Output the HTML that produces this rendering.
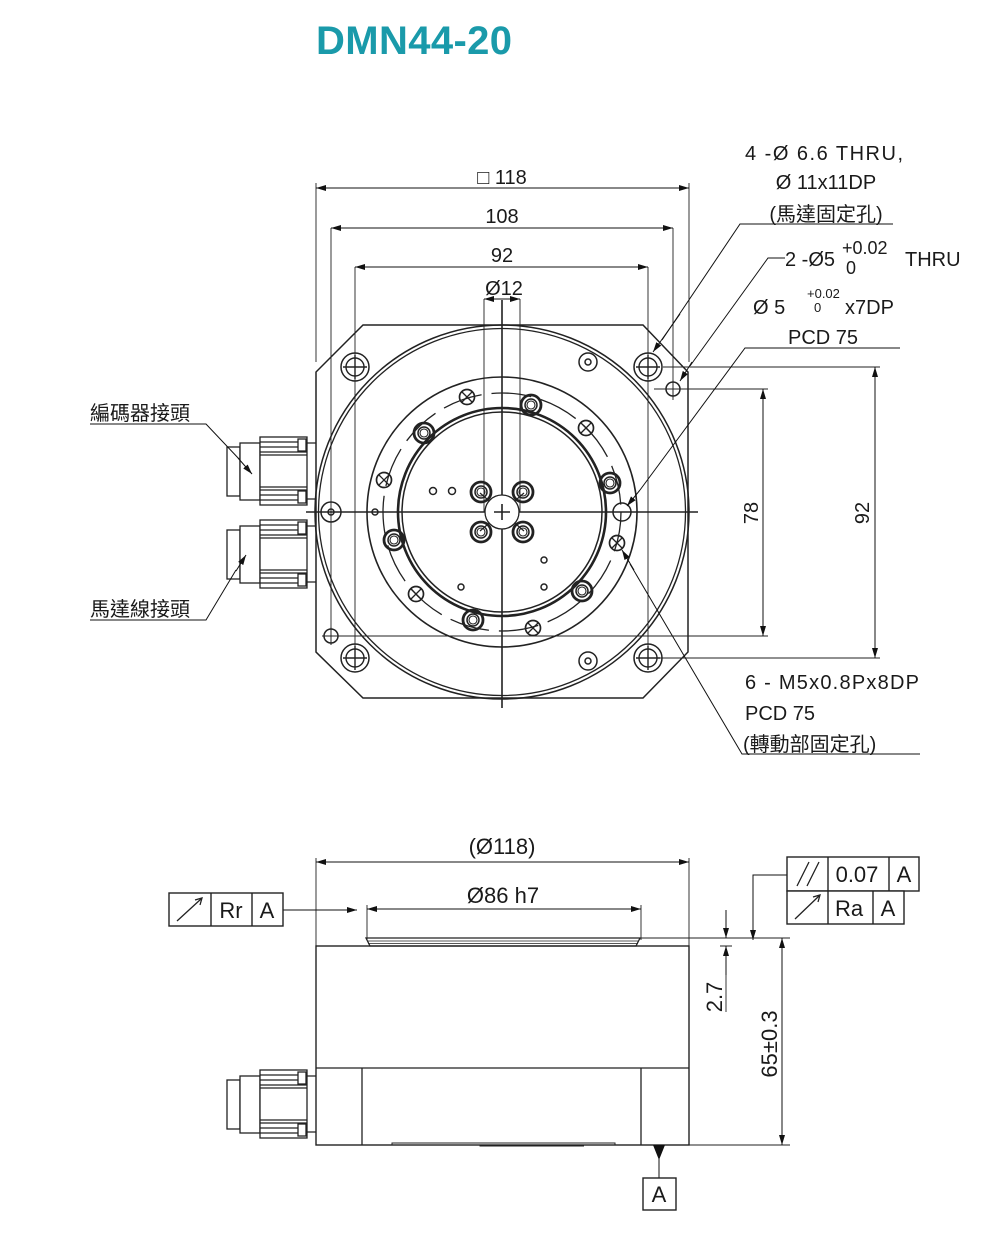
<!DOCTYPE html>
<html><head><meta charset="utf-8"><style>
html,body{margin:0;padding:0;background:#fff;width:998px;height:1255px;overflow:hidden}
svg{display:block}
text{font-family:"Liberation Sans","Noto Sans CJK TC",sans-serif;fill:#1a1a1a}
</style></head><body>
<svg width="998" height="1255" viewBox="0 0 998 1255" xmlns="http://www.w3.org/2000/svg">
<defs>
<marker id="a" viewBox="0 0 10 6" refX="10" refY="3" markerWidth="10" markerHeight="6" orient="auto-start-reverse" markerUnits="userSpaceOnUse"><path d="M0,0L10,3L0,6z" fill="#111"/></marker>
<g id="ch"><circle r="14" fill="none" stroke="#222" stroke-width="1.5"/><circle r="9" fill="none" stroke="#222" stroke-width="1.4"/><path d="M-12,0H12M0,-12V12" stroke="#222" stroke-width="1.4"/></g>
<g id="xh"><circle r="7.5" fill="none" stroke="#222" stroke-width="1.7"/><path d="M-5,-5L5,5M-5,5L5,-5" stroke="#222" stroke-width="1.3"/></g>
<g id="bh"><circle r="10" fill="none" stroke="#222" stroke-width="2.8"/><circle r="6" fill="none" stroke="#222" stroke-width="1.5"/><circle r="4" fill="none" stroke="#222" stroke-width="1.1"/></g>
<g id="con" fill="#fff" stroke="#222" stroke-width="1.3">
<rect x="227" y="10" width="13" height="49"/><rect x="240" y="6" width="20" height="57"/>
<rect x="260" y="0" width="47" height="68"/>
<path d="M260,5H307M260,10H307M260,15H307M260,18H307M260,50H307M260,53H307M260,58H307M260,63H307" fill="none"/>
<rect x="298" y="2" width="8" height="12"/><rect x="298" y="54" width="8" height="12"/>
<path d="M307,6H316M307,62H316" fill="none"/>
</g>
</defs>

<text x="316" y="54" font-size="40" font-weight="bold" style="fill:#1a9aaa" textLength="196">DMN44-20</text>

<g fill="none" stroke="#222" stroke-width="1.3">
<path d="M363,325H643L688,372V652L643,698H363L316,652V372Z" stroke-width="1.5"/>
<circle cx="502" cy="512" r="187" stroke-width="1.5"/>
<circle cx="502" cy="512" r="183.5"/>
<circle cx="502" cy="512" r="135" stroke-width="1.6"/>
<circle cx="502" cy="512" r="119" stroke-dasharray="40 10"/>
<circle cx="502" cy="512" r="104" stroke-width="2.6"/>
<circle cx="502" cy="512" r="100" stroke-width="1.5"/>
<path d="M502,300V708M306,512H698" stroke-width="1.6"/>
<path d="M484,299V512M520,299V512" stroke-width="0.9"/>
<path d="M331,228V645M673,228V400M355,267V662M648,267V662" stroke-width="0.9"/>
<path d="M316,183V362M689,183V362" stroke-width="0.9"/>
<path d="M322,636H768M654,389H768M663,367H880M656,658H880" stroke-width="0.9"/>
<path d="M480,493L502,512L524,493M480,531L502,512L524,531" stroke-width="1.2"/>
</g>
<use href="#bh" x="481" y="492"/><use href="#bh" x="523" y="492"/><use href="#bh" x="481" y="532"/><use href="#bh" x="523" y="532"/>
<circle cx="502" cy="512" r="17" fill="#fff" stroke="#222" stroke-width="1.3"/>
<path d="M494,512H510M502,504V520" stroke="#222" stroke-width="1.6"/>
<use href="#ch" x="355" y="367"/><use href="#ch" x="648" y="367"/><use href="#ch" x="355" y="658"/><use href="#ch" x="648" y="658"/>
<g fill="none" stroke="#222" stroke-width="1.5">
<circle cx="588" cy="362" r="9"/><circle cx="588" cy="362" r="3"/>
<circle cx="588" cy="661" r="9"/><circle cx="588" cy="661" r="3"/>
<circle cx="673" cy="389" r="7"/><path d="M664,389H682M673,380V398" stroke-width="1"/>
<circle cx="331" cy="636" r="7"/><path d="M322,636H340M331,627V645" stroke-width="1"/>
<circle cx="331" cy="512" r="10"/><circle cx="331" cy="512" r="3"/>
<circle cx="622" cy="512" r="9"/>
<circle cx="375" cy="512" r="3"/><circle cx="433" cy="491" r="3.5"/><circle cx="452" cy="491" r="3.5"/>
<circle cx="544" cy="560" r="3"/><circle cx="544" cy="587" r="3"/><circle cx="461" cy="587" r="3"/>
</g>
<use href="#bh" x="531" y="405"/><use href="#bh" x="424" y="433"/><use href="#bh" x="610" y="483"/><use href="#bh" x="394" y="540"/><use href="#bh" x="582" y="591"/><use href="#bh" x="473" y="620"/>
<use href="#xh" x="467" y="397"/><use href="#xh" x="586" y="428"/><use href="#xh" x="416" y="594"/><use href="#xh" x="533" y="628"/><use href="#xh" x="384" y="480"/><use href="#xh" x="617" y="543"/>

<use href="#con" x="0" y="437"/><use href="#con" x="0" y="520"/>

<g stroke="#111" stroke-width="1" fill="none">
<path d="M316,188H689" marker-start="url(#a)" marker-end="url(#a)"/>
<path d="M331,228H673" marker-start="url(#a)" marker-end="url(#a)"/>
<path d="M355,267H648" marker-start="url(#a)" marker-end="url(#a)"/>
<path d="M484,299H520" marker-start="url(#a)" marker-end="url(#a)"/>
<path d="M763,389V636" marker-start="url(#a)" marker-end="url(#a)"/>
<path d="M875,367V658" marker-start="url(#a)" marker-end="url(#a)"/>
<path d="M893,224H740L662,340" /><path d="M680,314L653,352" marker-end="url(#a)"/>
<path d="M785,258H768L690,366"/><path d="M692,362L680,381" marker-end="url(#a)"/>
<path d="M900,348H745L640,490"/><path d="M640,490L627,506" marker-end="url(#a)"/>
<path d="M920,754H742L630,564"/><path d="M634,570L622,550" marker-end="url(#a)"/>
<path d="M90,424H206L240,460"/><path d="M238,458L252,474" marker-end="url(#a)"/>
<path d="M90,620H206L236,570"/><path d="M236,571L246,555" marker-end="url(#a)"/>
</g>
<g font-size="20" text-anchor="middle">
<text x="502" y="184">□ 118</text>
<text x="502" y="223">108</text>
<text x="502" y="262">92</text>
<text x="504" y="295">Ø12</text>
<text x="758" y="513" transform="rotate(-90 758 513)">78</text>
<text x="869" y="513" transform="rotate(-90 869 513)">92</text>
<text x="824" y="160" textLength="158">4 -Ø 6.6 THRU,</text>
<text x="826" y="189">Ø 11x11DP</text>
<text x="826" y="221">(馬達固定孔)</text>
<text x="823" y="344">PCD 75</text>
</g>
<g font-size="20">
<text x="785" y="266">2 -Ø5</text>
<text x="842" y="254" font-size="18">+0.02</text>
<text x="846" y="274" font-size="18">0</text>
<text x="905" y="266">THRU</text>
<text x="753" y="314">Ø 5</text>
<text x="807" y="298" font-size="13">+0.02</text>
<text x="814" y="312" font-size="13">0</text>
<text x="845" y="314">x7DP</text>
<text x="745" y="689" textLength="174">6 - M5x0.8Px8DP</text>
<text x="745" y="720">PCD 75</text>
<text x="743" y="751">(轉動部固定孔)</text>
<text x="90" y="420">編碼器接頭</text>
<text x="90" y="616">馬達線接頭</text>
</g>

<g fill="none" stroke="#222" stroke-width="1.3">
<path d="M316,858V946M689,858V946" stroke-width="0.9"/>
<path d="M367,905V940M641,905V940" stroke-width="0.9"/>
<path d="M366,938H640L636,946H370Z"/>
<path d="M368,941H638M368,943.5H638" stroke-width="0.8"/>
<rect x="316" y="946" width="373" height="199" stroke-width="1.4"/>
<path d="M316,1068H689M362,1068V1145M641,1068V1145"/>
<path d="M392,1145V1143H615V1145M480,1145V1146H584" stroke-width="1"/>
<path d="M640,938H790M689,1145H790M720,946H732" stroke-width="0.9"/>
<path d="M726,1012V946" stroke-width="0.9"/>
</g>
<use href="#con" x="0" y="1070"/>
<g stroke="#111" stroke-width="1" fill="none">
<path d="M316,862H689" marker-start="url(#a)" marker-end="url(#a)"/>
<path d="M367,909H641" marker-end="url(#a)"/>
<path d="M377,909H367" marker-end="url(#a)"/>
<path d="M283,910H357" marker-end="url(#a)"/>
<path d="M726,910V938" marker-end="url(#a)"/>
<path d="M726,975V946" marker-end="url(#a)"/>
<path d="M782,938V1145" marker-start="url(#a)" marker-end="url(#a)"/>
<path d="M787,875H753V940" marker-end="url(#a)"/>
<path d="M659,1178V1145"/>
</g>
<path d="M653,1145H665L659,1160Z" fill="#111"/>
<g fill="#fff" stroke="#222" stroke-width="1.4">
<rect x="169" y="893" width="114" height="33"/><path d="M211,893V926M252,893V926"/>
<rect x="787" y="857" width="132" height="34"/><path d="M828,857V891M889,857V891"/>
<rect x="787" y="891" width="117" height="33"/><path d="M828,891V924M873,891V924"/>
<rect x="643" y="1178" width="33" height="32"/>
</g>
<g stroke="#222" stroke-width="1.3" fill="none">
<path d="M177,921L201,899"/><path d="M195,900L202,898L200,905" />
<path d="M795,919L819,896"/><path d="M813,897L820,895L818,902"/>
<path d="M797,886L809,862M807,886L819,862"/>
</g>
<g font-size="22" text-anchor="middle">
<text x="502" y="854">(Ø118)</text>
<text x="503" y="903">Ø86 h7</text>
<text x="231" y="918">Rr</text><text x="267" y="918">A</text>
<text x="857" y="882">0.07</text><text x="904" y="882">A</text>
<text x="849" y="916">Ra</text><text x="888" y="916">A</text>
<text x="659" y="1202">A</text>
<text x="722" y="997" transform="rotate(-90 722 997)">2.7</text>
<text x="777" y="1044" transform="rotate(-90 777 1044)">65±0.3</text>
</g>
</svg>
</body></html>
